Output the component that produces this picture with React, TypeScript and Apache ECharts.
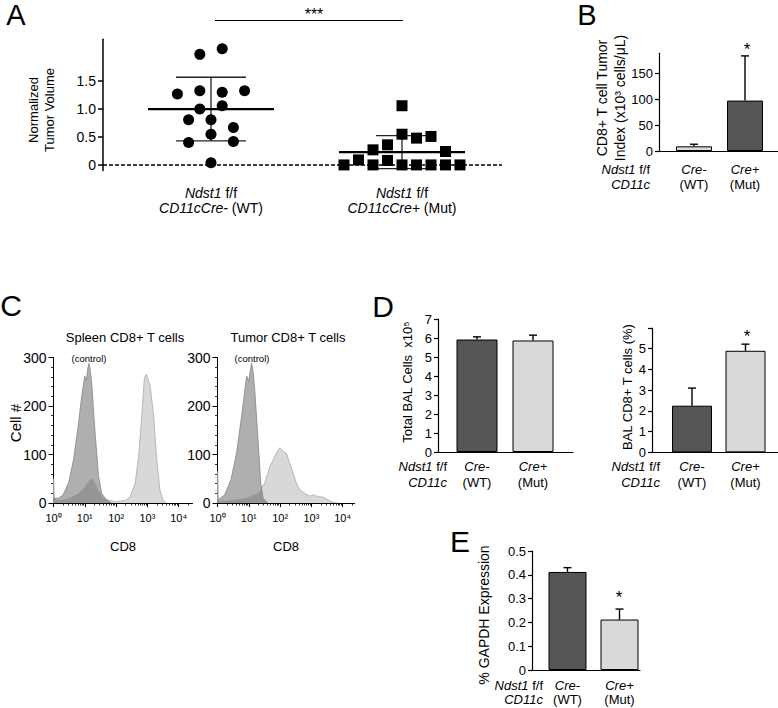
import React, { useEffect, useRef } from 'react';
import * as echarts from 'echarts';

const FONT = '"Liberation Sans", Arial, Helvetica, sans-serif';

// ---------- Panel A: normalized tumor volume (dot plot) ----------
const wtVolumes = [1.98, 2.08, 1.27, 1.33, 1.3, 1.33, 1.0, 1.06, 0.81, 0.81, 0.67, 0.55, 0.4, 0.42, 0.04];
const wtColumns = [-1, 1, -3, -1, 1, 3, -1, 1, -2, 0, 2, 0, -2, 2, 0];
const mutVolumes = [1.06, 0.55, 0.48, 0.51, 0.27, 0.36, 0.24, 0.09, 0.08, 0, 0, 0, 0, 0, 0, 0];
const mutColumns = [0, 0, 1, 2, -2, -1, 3, -3, -1, -4, -2, 0, 1, 2, 3, 4];
const volumeMeans = [1.0, 0.23];
const volumeSdLow = [0.43, -0.065];
const volumeSdHigh = [1.57, 0.525];
const volumeTicks = [0, 0.5, 1.0, 1.5];
const groupLabelsA = ['{i|Ndst1} f/f\n{i|CD11cCre-} (WT)', '{i|Ndst1} f/f\n{i|CD11cCre+} (Mut)'];

// ---------- Panel B: CD8+ T cell tumor index ----------
const tumorIndexValues = [9, 97];
const tumorIndexErrors = [4, 86];
const tumorIndexTicks = [0, 50, 100, 150];

// ---------- Panel C: flow cytometry histograms (x in decades, log10) ----------
const spleenCD8: number[][] = [
  [0, 0], [0.006, 50], [0.03, 8], [0.2, 6], [0.48, 10], [0.8, 20], [1.01, 34], [1.15, 48], [1.22, 51],
  [1.3, 45], [1.44, 27], [1.6, 10], [1.8, 5], [1.97, 3], [2.15, 4], [2.29, 5], [2.45, 13], [2.61, 41],
  [2.72, 96], [2.82, 179], [2.9, 255], [2.93, 262], [2.97, 265], [3.02, 255], [3.09, 241], [3.2, 179],
  [3.3, 89], [3.4, 27], [3.5, 6], [3.6, 0],
];
const spleenControl: number[][] = [
  [0, 0], [0.02, 10], [0.15, 10], [0.3, 16], [0.48, 41], [0.64, 89], [0.8, 165], [0.9, 220], [1.0, 262],
  [1.05, 252], [1.1, 280], [1.14, 288], [1.18, 270], [1.22, 248], [1.28, 190], [1.33, 144], [1.44, 55],
  [1.54, 20], [1.69, 6], [1.85, 0],
];
const tumorCD8: number[][] = [
  [0, 0], [0.006, 65], [0.03, 4], [0.3, 5], [0.87, 10], [1.3, 20], [1.51, 41], [1.67, 75], [1.78, 89],
  [1.88, 103], [1.95, 110], [1.99, 114], [2.05, 110], [2.1, 106], [2.2, 103], [2.31, 82], [2.42, 61],
  [2.52, 41], [2.63, 27], [2.79, 20], [2.95, 14], [3.06, 17], [3.22, 13], [3.38, 12], [3.54, 6], [3.7, 1],
  [3.85, 0],
];
const tumorControl: number[][] = [
  [0, 0], [0.02, 6], [0.23, 17], [0.43, 48], [0.61, 103], [0.77, 179], [0.93, 262], [1.0, 251],
  [1.05, 275], [1.09, 288], [1.14, 270], [1.19, 234], [1.3, 124], [1.38, 41], [1.46, 10], [1.6, 0],
];
const cellCountTicks = [0, 100, 200, 300];
const decadeTicks = [0, 1, 2, 3, 4];
const superscripts = ['⁰', '¹', '²', '³', '⁴'];

// ---------- Panel D ----------
const balTotalValues = [5.92, 5.87];
const balTotalErrors = [0.14, 0.28];
const balTotalTicks = [0, 1, 2, 3, 4, 5, 6, 7];
const balCD8Values = [2.25, 4.9];
const balCD8Errors = [0.85, 0.32];
const balCD8Ticks = [0, 1, 2, 3, 4, 5];

// ---------- Panel E ----------
const gapdhValues = [0.412, 0.212];
const gapdhErrors = [0.018, 0.044];
const gapdhTicks = [0, 0.1, 0.2, 0.3, 0.4, 0.5];

const genotypeLabels = ['{i|Cre-}\n(WT)', '{i|Cre+}\n(Mut)'];

const DARK = '#555555';
const LIGHT = '#d9d9d9';

// layout
const G = {
  A: { left: 103, top: 39.3, width: 399, height: 131.2 },
  B: { left: 659, top: 53.3, width: 119, height: 97.7 },
  CL: { left: 53.5, top: 357.5, width: 139, height: 145.5 },
  CR: { left: 217.5, top: 357.5, width: 137, height: 145.5 },
  DL: { left: 438, top: 319, width: 135, height: 133 },
  DR: { left: 652, top: 328, width: 126, height: 124.3 },
  E: { left: 532, top: 551, width: 108, height: 119 },
};
const DECADE_PX = 31.3;

// value-axis extent so that categories 1 and 2 sit at pixel centres c1, c2
const span = (g: any, c1: number, c2: number) => {
  const u = c2 - c1;
  const min = 1 - (c1 - g.left) / u;
  return { min, max: min + g.width / u };
};

const fmtDec = (v: number) => (v === 0 ? '0' : v.toFixed(1));

const yAxisOf = (gridIndex: number, min: number, max: number, ticks: number[], labels: number[], fmt?: any, fontSize = 13, margin = 6) => ({
  type: 'value', gridIndex, min, max,
  axisLine: { show: true, lineStyle: { color: '#000', width: 1.2 } },
  axisTick: { show: true, customValues: ticks, length: 4, lineStyle: { color: '#000', width: 1.2 } },
  axisLabel: { customValues: labels, formatter: fmt, fontSize, color: '#000', margin, fontFamily: FONT },
  splitLine: { show: false },
});

const catXAxis = (gridIndex: number, g: any, c1: number, c2: number, labels: string[], margin: number, lineHeight: number) => {
  const { min, max } = span(g, c1, c2);
  return {
    type: 'value', gridIndex, min, max,
    axisLine: { show: true, onZero: false, lineStyle: { color: '#000', width: 1.2 } },
    axisTick: { show: false },
    axisLabel: {
      customValues: [1, 2],
      formatter: (v: number) => labels[Math.round(v) - 1],
      fontSize: 13, lineHeight, margin, color: '#000', fontFamily: FONT,
      rich: { i: { fontStyle: 'italic', fontSize: 13, lineHeight, fontFamily: FONT, color: '#000' } },
    },
    splitLine: { show: false },
  };
};

const barSeries = (xi: number, yi: number, values: number[], colors: string[], width: number) => ({
  type: 'bar', xAxisIndex: xi, yAxisIndex: yi, barWidth: width,
  data: values.map((v, i) => ({ value: [i + 1, v], itemStyle: { color: colors[i], borderColor: '#000', borderWidth: 1 } })),
});

const errSeries = (xi: number, yi: number, values: number[], errors: number[], cap: number) => ({
  type: 'custom', xAxisIndex: xi, yAxisIndex: yi, z: 3,
  data: values.map((v, i) => [i + 1, v, errors[i]]),
  renderItem: (params: any, api: any) => {
    const x = api.value(0), v = api.value(1), e = api.value(2);
    const p0 = api.coord([x, v]);
    const p1 = api.coord([x, v + e]);
    const st = { stroke: '#000', lineWidth: 1.4 };
    return {
      type: 'group',
      children: [
        { type: 'line', shape: { x1: p0[0], y1: p0[1], x2: p1[0], y2: p1[1] }, style: st },
        { type: 'line', shape: { x1: p1[0] - cap, y1: p1[1], x2: p1[0] + cap, y2: p1[1] }, style: st },
      ],
    };
  },
});

const histSeries = (xi: number, yi: number, data: number[][], fill: string, stroke: string) => ({
  type: 'line', xAxisIndex: xi, yAxisIndex: yi, data, symbol: 'none', smooth: false,
  lineStyle: { color: stroke, width: 0.8 }, areaStyle: { color: fill, opacity: 1 },
});

const minorDecades: number[] = [];
for (let d = 0; d <= 4; d++) {
  for (let k = 2; k <= 9; k++) {
    const t = d + Math.log10(k);
    if (t < 4.45) minorDecades.push(t);
  }
}

const logXAxes = (gridIndex: number, g: any) => {
  const max = g.width / DECADE_PX;
  return [
    {
      type: 'value', gridIndex, min: 0, max, position: 'bottom',
      axisLine: { show: true, onZero: false, lineStyle: { color: '#000', width: 1 } },
      axisTick: { show: true, customValues: decadeTicks, length: 4, lineStyle: { color: '#000', width: 1 } },
      axisLabel: { customValues: decadeTicks, formatter: (v: number) => '10' + superscripts[Math.round(v)], fontSize: 11, margin: 9, color: '#000', fontFamily: FONT },
      splitLine: { show: false },
      name: 'CD8', nameLocation: 'middle', nameGap: 37,
      nameTextStyle: { fontSize: 13, color: '#000', fontFamily: FONT },
    },
    {
      type: 'value', gridIndex, min: 0, max, position: 'bottom',
      axisLine: { show: false, onZero: false },
      axisTick: { show: true, customValues: minorDecades, length: 2.5, lineStyle: { color: '#000', width: 0.8 } },
      axisLabel: { show: false },
      splitLine: { show: false },
    },
  ];
};

const cellYAxis = (gridIndex: number) => ({
  type: 'value', gridIndex, min: 0, max: 300, interval: 100,
  axisLine: { show: true, lineStyle: { color: '#000', width: 1 } },
  axisTick: { show: true, length: 5, lineStyle: { color: '#000', width: 1 } },
  minorTick: { show: true, splitNumber: 5, length: 2.5, lineStyle: { color: '#000', width: 0.8 } },
  axisLabel: { customValues: cellCountTicks, fontSize: 14, margin: 7, color: '#000', fontFamily: FONT },
  splitLine: { show: false }, minorSplitLine: { show: false },
});

const txt = (x: number, y: number, text: string, fontSize: number, extra: any = {}, rotation = 0) => ({
  type: 'text', x, y, rotation, silent: true,
  style: { text, fontSize, fontFamily: FONT, fill: '#000', align: 'center', verticalAlign: 'middle', ...extra },
});

const italicRich = (fontSize: number, lineHeight: number) => ({ i: { fontStyle: 'italic', fontSize, lineHeight, fontFamily: FONT, fill: '#000', color: '#000' } });

export default function App() {
  const ref = useRef<HTMLDivElement>(null);
  useEffect(() => {
    document.body.style.margin = '0';
    if (!ref.current) return;
    const chart = echarts.init(ref.current, undefined, { renderer: 'svg' });

    const aSpan = span(G.A, 211, 402);
    const WT_STEP = 11.2 / 191;
    const MUT_STEP = 14.5 / 191;
    const meanHalf = 63;
    const capHalfA = [35, 26];

    const option: any = {
      animation: false,
      textStyle: { fontFamily: FONT },
      grid: [G.A, G.B, G.CL, G.CR, G.DL, G.DR, G.E].map((g) => ({ ...g, containLabel: false })),
      xAxis: [
        {
          type: 'value', gridIndex: 0, min: aSpan.min, max: aSpan.max,
          axisLine: { show: false, onZero: false }, axisTick: { show: false }, splitLine: { show: false },
          axisLabel: {
            customValues: [1, 2], formatter: (v: number) => groupLabelsA[Math.round(v) - 1],
            fontSize: 14, lineHeight: 15, margin: 15, color: '#000', fontFamily: FONT,
            rich: { i: { fontStyle: 'italic', fontSize: 14, lineHeight: 15, fontFamily: FONT, color: '#000' } },
          },
        },
        catXAxis(1, G.B, 694, 745, genotypeLabels, 10.5, 15),
        ...logXAxes(2, G.CL),
        ...logXAxes(3, G.CR),
        catXAxis(4, G.DL, 477, 533, genotypeLabels, 6, 16),
        catXAxis(5, G.DR, 692, 745.5, genotypeLabels, 6, 16),
        catXAxis(6, G.E, 567.5, 619.5, genotypeLabels, 8, 14),
      ],
      yAxis: [
        { ...yAxisOf(0, -0.1, 2.25, volumeTicks, volumeTicks, fmtDec, 14, 7), axisTick: { show: true, customValues: volumeTicks, length: 5, lineStyle: { color: '#000', width: 1.5 } }, axisLine: { show: true, lineStyle: { color: '#000', width: 1.5 } } },
        yAxisOf(1, 0, 188, tumorIndexTicks, tumorIndexTicks, undefined, 13, 6),
        cellYAxis(2),
        cellYAxis(3),
        yAxisOf(4, 0, 7, balTotalTicks, balTotalTicks, undefined, 13, 6),
        yAxisOf(5, 0, 6, [...balCD8Ticks, 6], balCD8Ticks, undefined, 13, 6),
        yAxisOf(6, 0, 0.5, gapdhTicks, gapdhTicks, fmtDec, 13, 6),
      ],
      series: [
        // Panel A
        {
          type: 'custom', xAxisIndex: 0, yAxisIndex: 0, z: 2,
          data: volumeMeans.map((m, i) => [i + 1, m, volumeSdLow[i], volumeSdHigh[i]]),
          renderItem: (params: any, api: any) => {
            const x = api.value(0);
            const pm = api.coord([x, api.value(1)]);
            const pl = api.coord([x, api.value(2)]);
            const ph = api.coord([x, api.value(3)]);
            const cap = capHalfA[params.dataIndex];
            const thin = { stroke: '#222', lineWidth: 1.3 };
            return {
              type: 'group',
              children: [
                { type: 'line', shape: { x1: pl[0], y1: pl[1], x2: ph[0], y2: ph[1] }, style: thin },
                { type: 'line', shape: { x1: ph[0] - cap, y1: ph[1], x2: ph[0] + cap, y2: ph[1] }, style: thin },
                { type: 'line', shape: { x1: pl[0] - cap, y1: pl[1], x2: pl[0] + cap, y2: pl[1] }, style: thin },
                { type: 'line', shape: { x1: pm[0] - meanHalf, y1: pm[1], x2: pm[0] + meanHalf, y2: pm[1] }, style: { stroke: '#000', lineWidth: 2.2 } },
              ],
            };
          },
          markLine: {
            silent: true, symbol: 'none', label: { show: false },
            lineStyle: { color: '#000', type: [4, 2], width: 1.6 },
            data: [{ yAxis: 0 }],
          },
        },
        {
          type: 'scatter', xAxisIndex: 0, yAxisIndex: 0, symbol: 'circle', symbolSize: 11, clip: false, z: 3,
          itemStyle: { color: '#000', opacity: 1 },
          data: wtVolumes.map((v, i) => [1 + wtColumns[i] * WT_STEP, v]),
        },
        {
          type: 'scatter', xAxisIndex: 0, yAxisIndex: 0, symbol: 'rect', symbolSize: 11, clip: false, z: 3,
          itemStyle: { color: '#000', opacity: 1 },
          data: mutVolumes.map((v, i) => [2 + mutColumns[i] * MUT_STEP, v]),
        },
        // Panel B
        barSeries(1, 1, tumorIndexValues, [LIGHT, DARK], 36),
        errSeries(1, 1, tumorIndexValues, tumorIndexErrors, 4),
        // Panel C
        histSeries(2, 2, spleenCD8, '#d8d8d8', '#a9a9a9'),
        histSeries(2, 2, spleenControl, 'rgba(20,20,20,0.34)', '#858585'),
        histSeries(4, 3, tumorCD8, '#d8d8d8', '#a9a9a9'),
        histSeries(4, 3, tumorControl, 'rgba(20,20,20,0.34)', '#858585'),
        // Panel D
        barSeries(6, 4, balTotalValues, [DARK, LIGHT], 41),
        errSeries(6, 4, balTotalValues, balTotalErrors, 4),
        barSeries(7, 5, balCD8Values, [DARK, LIGHT], 40),
        errSeries(7, 5, balCD8Values, balCD8Errors, 4),
        // Panel E
        barSeries(8, 6, gapdhValues, [DARK, LIGHT], 38),
        errSeries(8, 6, gapdhValues, gapdhErrors, 4),
      ],
      graphic: [
        // panel letters
        txt(16, 15, 'A', 29),
        txt(587, 15, 'B', 29),
        txt(11, 305, 'C', 30),
        txt(383, 306, 'D', 30),
        txt(460, 541, 'E', 30),
        // Panel A
        { type: 'line', silent: true, shape: { x1: 215, y1: 20.5, x2: 403, y2: 20.5 }, style: { stroke: '#000', lineWidth: 1.2 } },
        txt(314, 14, '***', 16),
        txt(41.5, 110, 'Normalized\nTumor Volume', 13, { lineHeight: 16 }, Math.PI / 2),
        // Panel B
        txt(611, 98, 'CD8+ T cell Tumor\nIndex (x10³ cells/μL)', 14, { lineHeight: 18 }, Math.PI / 2),
        txt(650, 161.5, '{i|Ndst1} f/f\n{i|CD11c}', 13, { align: 'right', verticalAlign: 'top', lineHeight: 15, rich: italicRich(13, 15) }),
        txt(747, 49, '*', 17),
        // Panel C
        txt(125, 337, 'Spleen CD8+ T cells', 13),
        txt(288, 337, 'Tumor CD8+ T cells', 13),
        txt(89, 358, '(control)', 9.5),
        txt(252, 358, '(control)', 9.5),
        txt(15, 423, 'Cell #', 15, {}, Math.PI / 2),
        // Panel D
        txt(407, 382, 'Total BAL Cells  x10⁵', 13, {}, Math.PI / 2),
        txt(447, 458, '{i|Ndst1} f/f\n{i|CD11c}', 13, { align: 'right', verticalAlign: 'top', lineHeight: 16, rich: italicRich(13, 16) }),
        txt(627, 387, 'BAL CD8+ T cells (%)', 13, {}, Math.PI / 2),
        txt(660, 458, '{i|Ndst1} f/f\n{i|CD11c}', 13, { align: 'right', verticalAlign: 'top', lineHeight: 16, rich: italicRich(13, 16) }),
        txt(747, 336, '*', 17),
        // Panel E
        txt(484, 615, '% GAPDH Expression', 14, {}, Math.PI / 2),
        txt(543, 678, '{i|Ndst1} f/f\n{i|CD11c}', 13, { align: 'right', verticalAlign: 'top', lineHeight: 14, rich: italicRich(13, 14) }),
        txt(619, 597, '*', 17),
      ],
    };
    chart.setOption(option);
    return () => chart.dispose();
  }, []);
  return <div ref={ref} style={{ width: 778, height: 708 }} />;
}
